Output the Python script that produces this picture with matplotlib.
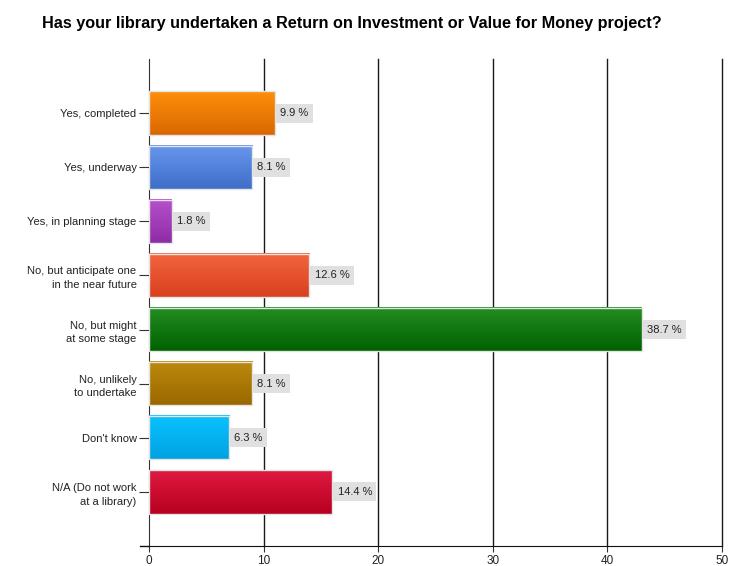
import numpy as np
import matplotlib.pyplot as plt
from matplotlib.colors import LinearSegmentedColormap

plt.rcParams['font.family'] = ['Liberation Sans', 'DejaVu Sans']

# survey answers and number of respondents for each
answers = ["Yes, completed", "Yes, underway", "Yes, in planning stage",
           "No, but anticipate one\nin the near future", "No, but might\nat some stage",
           "No, unlikely\nto undertake", "Don't know", "N/A (Do not work\nat a library)"]
counts = [11, 9, 2, 14, 43, 9, 7, 16]
top_cols = ["#ff8e0a", "#6896ee", "#b650cc", "#f4643f", "#238e23", "#bc8a0c", "#0ac2fe", "#de1a40"]
bot_cols = ["#d96800", "#3e6ec8", "#8e2ca6", "#d8401f", "#006200", "#9a6800", "#00a2e2", "#b80020"]
xticks = [0, 10, 20, 30, 40, 50]

total = sum(counts)
pcts = [100.0 * c / total for c in counts]

fig = plt.figure(figsize=(7.32, 5.66), dpi=100)
ax = fig.add_axes([0.2036, 0.0353, 0.7827, 0.8605])

pos = np.arange(1, len(answers) + 1)
bars = ax.barh(pos, counts, height=0.8, color='none', edgecolor='#e4e4e4', linewidth=1, zorder=4)

# vertical gradient fill inside every bar
grad = np.linspace(0, 1, 64).reshape(-1, 1)
for b, c1, c2 in zip(bars, top_cols, bot_cols):
    cmap = LinearSegmentedColormap.from_list('g', [c1, c2])
    x0, y0 = b.get_x(), b.get_y()
    w, h = b.get_width(), b.get_height()
    ax.imshow(grad, cmap=cmap, aspect='auto', extent=[x0, x0 + w, y0 + h, y0],
              origin='upper', zorder=3, interpolation='bicubic')

# percentage labels in grey boxes
for b, p in zip(bars, pcts):
    ax.text(b.get_width() + 0.45, b.get_y() + b.get_height() / 2, "%.1f %%" % p,
            va='center', ha='left', fontsize=8, color='#222222', zorder=5,
            bbox=dict(boxstyle='square,pad=0.4', fc='#e0e0e0', ec='none'))

ax.set_xlim(0, 50)
ax.set_ylim(9, 0)
ax.set_xticks(xticks)
ax.set_yticks(pos)
ax.set_yticklabels(answers, fontsize=8, ha='right', multialignment='right',
                   linespacing=1.45, color='#222222')
ax.tick_params(axis='x', labelsize=8.5, length=4, pad=2.5, color='#333333', labelcolor='#222222')
ax.tick_params(axis='y', length=7, pad=2, color='#333333')
for t in xticks[1:]:
    ax.axvline(t, color='#1a1a1a', lw=1, zorder=1, clip_on=False)
for s in ['top', 'right']:
    ax.spines[s].set_visible(False)
ax.spines['left'].set_color('#333333')
ax.spines['bottom'].set_color('#111111')
# bottom axis line runs a little past the left axis
ax.plot([-0.75, 0], [9, 9], color='#111111', lw=1, clip_on=False)

fig.suptitle("Has your library undertaken a Return on Investment or Value for Money project?",
             x=0.48, y=0.972, fontsize=11.7, fontweight='bold')

fig.savefig("out.png", dpi=100)
